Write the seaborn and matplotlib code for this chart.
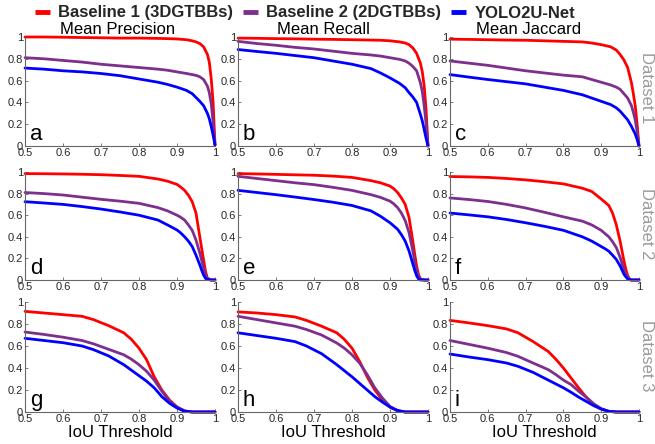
import matplotlib
matplotlib.use("Agg")
import matplotlib.pyplot as plt
import seaborn as sns
import pandas as pd

# ---------------- data ----------------
methods = ["Baseline 1 (3DGTBBs)", "Baseline 2 (2DGTBBs)", "YOLO2U-Net"]
colors = ["#FF0000", "#7E2F8E", "#0000FF"]
col_titles = ["Mean Precision", "Mean Recall", "Mean Jaccard"]
row_labels = ["Dataset 1", "Dataset 2", "Dataset 3"]
panel_letters = ["a", "b", "c", "d", "e", "f", "g", "h", "i"]
x_ticks = [0.5, 0.6, 0.7, 0.8, 0.9, 1.0]
x_tick_labels = ["0.5", "0.6", "0.7", "0.8", "0.9", "1"]
y_ticks = [0, 0.2, 0.4, 0.6, 0.8, 1.0]
y_tick_labels = ["0", "0.2", "0.4", "0.6", "0.8", "1"]

x_row1 = [0.5, 0.55, 0.6, 0.65, 0.7, 0.75, 0.8, 0.85, 0.875, 0.9, 0.925, 0.94,
          0.95, 0.96, 0.97, 0.98, 0.985, 0.99, 0.995, 1.0]
x_row2 = [0.5, 0.55, 0.6, 0.65, 0.7, 0.75, 0.8, 0.85, 0.875, 0.9, 0.91, 0.92,
          0.93, 0.94, 0.95, 0.96, 0.965, 0.97, 0.975, 0.98, 0.99, 1.0]
x_row3 = [0.5, 0.55, 0.6, 0.65, 0.68, 0.72, 0.76, 0.78, 0.8, 0.82, 0.84, 0.86,
          0.88, 0.9, 0.92, 0.94, 0.97, 1.0]

# Dataset 1
a_red = [1.0, 1.0, 0.998, 0.995, 0.993, 0.99, 0.99, 0.987, 0.985, 0.982, 0.975, 0.965,
         0.955, 0.94, 0.91, 0.84, 0.77, 0.62, 0.4, 0.01]
a_purple = [0.81, 0.80, 0.785, 0.77, 0.75, 0.735, 0.72, 0.705, 0.695, 0.68, 0.665, 0.655,
            0.648, 0.635, 0.61, 0.55, 0.49, 0.39, 0.22, 0.01]
a_blue = [0.715, 0.705, 0.69, 0.68, 0.665, 0.645, 0.615, 0.585, 0.565, 0.54, 0.51, 0.48,
          0.445, 0.41, 0.37, 0.30, 0.25, 0.18, 0.10, 0.01]
b_red = [0.99, 0.988, 0.985, 0.983, 0.98, 0.978, 0.975, 0.972, 0.97, 0.965, 0.955, 0.945,
         0.93, 0.9, 0.85, 0.76, 0.68, 0.55, 0.33, 0.0]
b_purple = [0.96, 0.94, 0.924, 0.905, 0.89, 0.87, 0.85, 0.835, 0.825, 0.81, 0.795, 0.78,
            0.76, 0.73, 0.69, 0.58, 0.5, 0.37, 0.2, 0.0]
b_blue = [0.885, 0.867, 0.85, 0.83, 0.81, 0.78, 0.75, 0.71, 0.67, 0.625, 0.575, 0.535,
          0.49, 0.45, 0.40, 0.29, 0.23, 0.15, 0.07, 0.0]
c_red = [0.98, 0.978, 0.975, 0.972, 0.97, 0.965, 0.96, 0.955, 0.945, 0.93, 0.91, 0.88,
         0.84, 0.79, 0.72, 0.58, 0.48, 0.37, 0.2, 0.0]
c_purple = [0.78, 0.76, 0.74, 0.715, 0.69, 0.67, 0.65, 0.635, 0.61, 0.585, 0.56, 0.54,
            0.52, 0.48, 0.44, 0.37, 0.31, 0.24, 0.13, 0.0]
c_blue = [0.655, 0.632, 0.61, 0.59, 0.57, 0.54, 0.51, 0.47, 0.44, 0.41, 0.38, 0.35,
          0.32, 0.28, 0.24, 0.18, 0.145, 0.11, 0.06, 0.0]

# Dataset 2
d_red = [0.985, 0.984, 0.982, 0.979, 0.975, 0.968, 0.96, 0.935, 0.915, 0.885, 0.86, 0.83,
         0.785, 0.725, 0.62, 0.40, 0.29, 0.185, 0.08, 0.015, 0.0, 0.0]
d_purple = [0.81, 0.80, 0.787, 0.767, 0.747, 0.73, 0.71, 0.67, 0.64, 0.60, 0.58, 0.555,
            0.51, 0.46, 0.37, 0.25, 0.18, 0.11, 0.05, 0.015, 0.0, 0.0]
d_blue = [0.725, 0.713, 0.70, 0.68, 0.657, 0.63, 0.60, 0.555, 0.51, 0.463, 0.435, 0.40,
          0.36, 0.31, 0.23, 0.14, 0.09, 0.046, 0.015, 0.005, 0.0, 0.0]
e_red = [0.985, 0.982, 0.978, 0.974, 0.97, 0.962, 0.95, 0.92, 0.9, 0.87, 0.845, 0.81,
         0.76, 0.70, 0.58, 0.36, 0.24, 0.13, 0.05, 0.01, 0.0, 0.0]
e_purple = [0.96, 0.94, 0.92, 0.9, 0.883, 0.858, 0.83, 0.79, 0.765, 0.73, 0.705, 0.67,
            0.62, 0.55, 0.44, 0.27, 0.17, 0.086, 0.03, 0.01, 0.0, 0.0]
e_blue = [0.83, 0.81, 0.79, 0.768, 0.745, 0.72, 0.69, 0.64, 0.59, 0.53, 0.50, 0.47,
          0.42, 0.36, 0.27, 0.15, 0.09, 0.04, 0.01, 0.0, 0.0, 0.0]
f_red = [0.958, 0.955, 0.95, 0.94, 0.927, 0.91, 0.89, 0.85, 0.82, 0.75, 0.72, 0.69,
         0.62, 0.51, 0.36, 0.18, 0.10, 0.04, 0.01, 0.0, 0.0, 0.0]
f_purple = [0.76, 0.745, 0.727, 0.70, 0.667, 0.627, 0.585, 0.545, 0.51, 0.46, 0.43, 0.40,
            0.355, 0.30, 0.21, 0.10, 0.055, 0.025, 0.008, 0.0, 0.0, 0.0]
f_blue = [0.62, 0.603, 0.585, 0.56, 0.53, 0.497, 0.46, 0.40, 0.36, 0.31, 0.29, 0.267,
          0.23, 0.19, 0.13, 0.055, 0.03, 0.01, 0.003, 0.0, 0.0, 0.0]

# Dataset 3
g_red = [0.915, 0.9, 0.885, 0.87, 0.84, 0.785, 0.72, 0.66, 0.58, 0.475, 0.32, 0.20,
         0.11, 0.045, 0.01, 0.0, 0.0, 0.0]
g_purple = [0.727, 0.705, 0.68, 0.65, 0.62, 0.57, 0.52, 0.48, 0.43, 0.37, 0.29, 0.19,
            0.10, 0.045, 0.01, 0.0, 0.0, 0.0]
g_blue = [0.67, 0.65, 0.63, 0.60, 0.567, 0.51, 0.43, 0.38, 0.33, 0.28, 0.22, 0.14,
          0.08, 0.036, 0.006, 0.0, 0.0, 0.0]
h_red = [0.91, 0.9, 0.885, 0.864, 0.833, 0.78, 0.72, 0.66, 0.58, 0.46, 0.32, 0.20,
         0.11, 0.045, 0.01, 0.0, 0.0, 0.0]
h_purple = [0.87, 0.84, 0.81, 0.78, 0.75, 0.70, 0.627, 0.58, 0.52, 0.445, 0.34, 0.22,
            0.127, 0.05, 0.01, 0.0, 0.0, 0.0]
h_blue = [0.72, 0.695, 0.67, 0.64, 0.60, 0.53, 0.43, 0.375, 0.32, 0.26, 0.20, 0.14,
          0.09, 0.045, 0.015, 0.0, 0.0, 0.0]
i_red = [0.833, 0.81, 0.785, 0.755, 0.72, 0.64, 0.55, 0.48, 0.40, 0.31, 0.22, 0.136,
         0.067, 0.027, 0.006, 0.0, 0.0, 0.0]
i_purple = [0.65, 0.615, 0.58, 0.54, 0.506, 0.445, 0.385, 0.34, 0.29, 0.25, 0.19, 0.136,
            0.076, 0.03, 0.006, 0.0, 0.0, 0.0]
i_blue = [0.527, 0.50, 0.476, 0.445, 0.415, 0.36, 0.29, 0.255, 0.22, 0.18, 0.136, 0.097,
          0.058, 0.027, 0.006, 0.0, 0.0, 0.0]

panels = [
    (x_row1, [a_red, a_purple, a_blue]),
    (x_row1, [b_red, b_purple, b_blue]),
    (x_row1, [c_red, c_purple, c_blue]),
    (x_row2, [d_red, d_purple, d_blue]),
    (x_row2, [e_red, e_purple, e_blue]),
    (x_row2, [f_red, f_purple, f_blue]),
    (x_row3, [g_red, g_purple, g_blue]),
    (x_row3, [h_red, h_purple, h_blue]),
    (x_row3, [i_red, i_purple, i_blue]),
]

# ---------------- style ----------------
sns.set_style("white")
plt.rcParams["font.family"] = ["Liberation Sans", "DejaVu Sans"]

W, H = 655, 444
fig = plt.figure(figsize=(W / 100, H / 100), dpi=100)

col_left = [25, 238, 450]
col_width = [190, 190, 189]
row_top = [37, 172, 302]
row_bottom = [146, 280, 412]

spine_color = "#666666"
text_color = "#262626"
palette = dict(zip(methods, colors))

axes = []
for r in range(3):
    for c in range(3):
        k = r * 3 + c
        rect = [col_left[c] / W, 1 - row_bottom[r] / H,
                col_width[c] / W, (row_bottom[r] - row_top[r]) / H]
        ax = fig.add_axes(rect)
        xs, series = panels[k]
        df = pd.concat([pd.DataFrame({"x": xs, "v": s, "method": m})
                        for s, m in zip(series, methods)], ignore_index=True)
        sns.lineplot(data=df, x="x", y="v", hue="method", hue_order=methods,
                     palette=palette, ax=ax, legend=False, linewidth=2.0,
                     estimator=None, sort=True)
        for ln in ax.get_lines():
            ln.set_clip_on(False)
            ln.set_solid_joinstyle("round")
        ax.set_xlim(0.5, 1.0)
        ax.set_ylim(0, 1)
        ax.set_xticks(x_ticks)
        ax.set_xticklabels(x_tick_labels)
        ax.set_yticks(y_ticks)
        ax.set_yticklabels(y_tick_labels)
        ax.set_xlabel("")
        ax.set_ylabel("")
        for s in ["top", "right"]:
            ax.spines[s].set_visible(False)
        for s in ["left", "bottom"]:
            ax.spines[s].set_color(spine_color)
            ax.spines[s].set_linewidth(0.8)
        ax.tick_params(axis="both", direction="in", length=2.5, width=0.6,
                       color=spine_color, labelsize=8, labelcolor=text_color,
                       pad=1.5, left=True, bottom=True)
        ax.set_facecolor("none")
        ax.text(0.025, 0.01, panel_letters[k], transform=ax.transAxes,
                fontsize=16, ha="left", va="bottom", color="black")
        if r == 2:
            ax.set_xlabel("IoU Threshold", fontsize=12, color="black", labelpad=1)
        axes.append(ax)

# column titles
title_centers = [118, 323, 529]
for t, cx in zip(col_titles, title_centers):
    fig.text(cx / W, 1 - 37 / H, t, ha="center", va="bottom", fontsize=12,
             color="black")

# row labels
row_centers = [88, 224, 356]
for t, cy in zip(row_labels, row_centers):
    fig.text(647 / W, 1 - cy / H, t, ha="center", va="center", fontsize=12,
             rotation=270, color="#9a9a9a")

# legend
handles = axes[0].get_lines()[:3]
leg = fig.legend(handles, methods, loc="center", ncol=3,
                 bbox_to_anchor=(305 / W, 1 - 13 / H), frameon=False,
                 handlelength=0.9, handletextpad=0.5, columnspacing=0.6,
                 prop={"weight": "bold", "size": 12}, borderpad=0.1)
for ln in leg.get_lines():
    ln.set_linewidth(3.5)
    ln.set_solid_capstyle("butt")

fig.savefig("out.png", dpi=100)
